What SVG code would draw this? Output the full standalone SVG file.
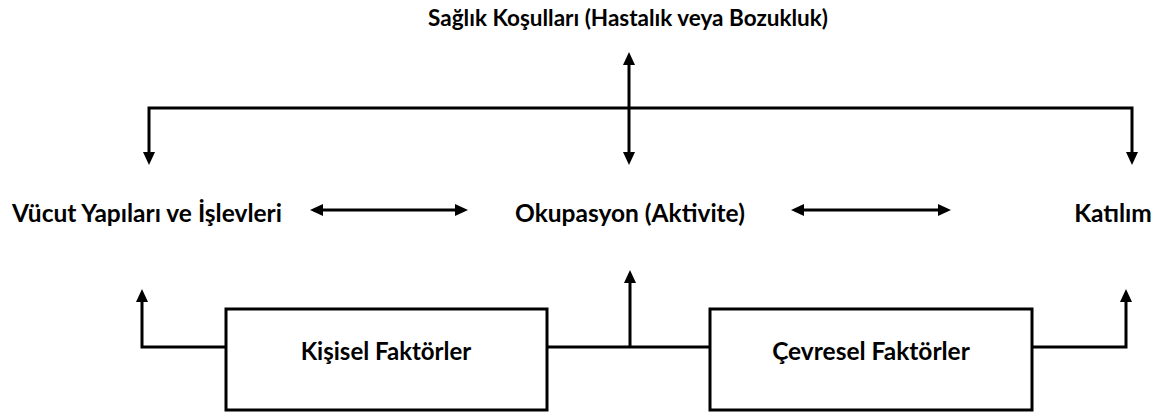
<svg xmlns="http://www.w3.org/2000/svg" width="1163" height="415" viewBox="0 0 1163 415">
<style>
text{font-family:Lato,"Liberation Sans",sans-serif;font-weight:bold;fill:#000;text-anchor:middle}
.ln{fill:none;stroke:#000;stroke-width:3}
.box{fill:#fff;stroke:#000;stroke-width:3}
</style>
<defs>
<marker id="ah" markerUnits="userSpaceOnUse" markerWidth="14" markerHeight="14" refX="1" refY="6" orient="auto-start-reverse" viewBox="0 0 14 12">
<path d="M0,0 L13,6 L0,12 z" fill="#000"/>
</marker>
</defs>
<g id="connectors">
<path class="ln" d="M149,153 V108 H1132 V153" marker-start="url(#ah)" marker-end="url(#ah)"/>
<path class="ln" d="M629,64 V153" marker-start="url(#ah)" marker-end="url(#ah)"/>
<path class="ln" d="M322,210 H456" marker-start="url(#ah)" marker-end="url(#ah)"/>
<path class="ln" d="M803,210 H939" marker-start="url(#ah)" marker-end="url(#ah)"/>
<path class="ln" d="M142,301 V347 H226" marker-start="url(#ah)"/>
<path class="ln" d="M547,347 H710"/>
<path class="ln" d="M630,347 V282" marker-end="url(#ah)"/>
<path class="ln" d="M1032,347 H1126 V301" marker-end="url(#ah)"/>
</g>
<g id="saglik"><text x="628" y="26" font-size="22.5">Sağlık Koşulları (Hastalık veya Bozukluk)</text></g>
<g id="vucut"><text x="147" y="222" font-size="24.5">Vücut Yapıları ve İşlevleri</text></g>
<g id="okupasyon"><text x="630" y="222" font-size="24.5">Okupasyon (Aktivite)</text></g>
<g id="katilim"><text x="1113" y="222" font-size="24.5">Katılım</text></g>
<g id="kisisel"><rect class="box" x="226" y="309" width="321" height="101"/><text x="386" y="360" font-size="24">Kişisel Faktörler</text></g>
<g id="cevresel"><rect class="box" x="710" y="309" width="322" height="101"/><text x="871" y="360" font-size="24.5">Çevresel Faktörler</text></g>
</svg>
